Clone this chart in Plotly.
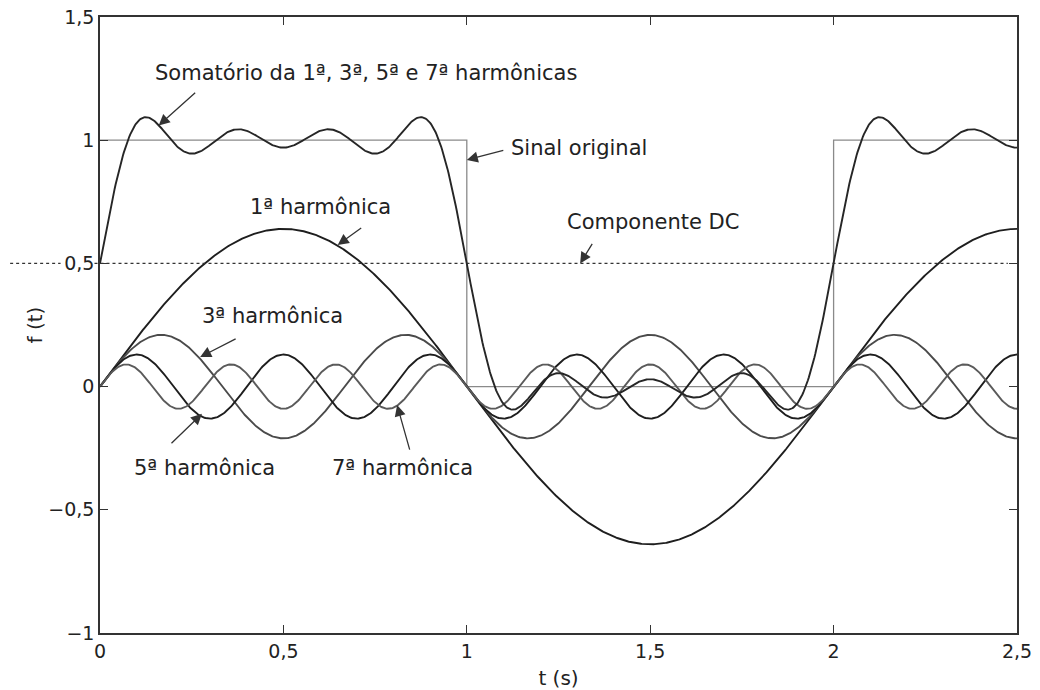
import numpy as np
import plotly.graph_objects as go

# Square wave: level 1 during the first half of each 2 s period
PERIOD = 2.0
SQUARE_T = [0.0, 1.0, 1.0, 2.0, 2.0, 2.5]
SQUARE_V = [1.0, 1.0, 0.0, 0.0, 1.0, 1.0]

# DC component and odd harmonics (order, peak amplitude)
DC_LEVEL = 0.5
HARMONIC_ORDER = [1, 3, 5, 7]
HARMONIC_PEAK = [0.64, 0.21, 0.13, 0.09]
HARMONIC_COLOR = ["#1e1e1e", "#4a4a4a", "#1e1e1e", "#5a5a5a"]

X_TICKS = [0, 0.5, 1, 1.5, 2, 2.5]
X_TICK_TEXT = ["0", "0,5", "1", "1,5", "2", "2,5"]
Y_TICKS = [-1, -0.5, 0, 0.5, 1, 1.5]
Y_TICK_TEXT = ["\u22121", "\u22120,5", "0", "0,5", "1", "1,5"]

FONT = "DejaVu Sans"
INK = "#222222"

W, H = 1040, 690
ML, MR, MT, MB = 100, 23, 17, 57
PW, PH = W - ML - MR, H - MT - MB

t = np.linspace(0, 2.5, 1001)
harmonics = [a * np.sin(2 * np.pi * n * t / PERIOD)
             for n, a in zip(HARMONIC_ORDER, HARMONIC_PEAK)]
partial_sum = DC_LEVEL + np.sum(harmonics, axis=0)

fig = go.Figure()

# original signal
fig.add_trace(go.Scatter(x=SQUARE_T, y=SQUARE_V, mode="lines",
                         line=dict(color="#8a8a8a", width=1.3)))

for h, c in zip(harmonics, HARMONIC_COLOR):
    fig.add_trace(go.Scatter(x=t, y=h, mode="lines",
                             line=dict(color=c, width=1.9)))

fig.add_trace(go.Scatter(x=t, y=partial_sum, mode="lines",
                         line=dict(color="#262626", width=1.9)))

# DC component: dotted line that runs past the left axis
dc_line = dict(type="line", yref="y", y0=DC_LEVEL, y1=DC_LEVEL,
               line=dict(color="#333333", width=1.3, dash="dot"), layer="above")
fig.add_shape(**dc_line, xref="paper", x0=-0.098, x1=-0.043)
fig.add_shape(**dc_line, xref="paper", x0=-0.006, x1=0.990)

text_font = dict(family=FONT, size=21, color=INK)

labels = [
    ("Somat\u00f3rio da 1\u00aa, 3\u00aa, 5\u00aa e 7\u00aa harm\u00f4nicas", 366, 73),
    ("Sinal original", 579, 148),
    ("1\u00aa harm\u00f4nica", 320, 207),
    ("Componente DC", 653, 222),
    ("3\u00aa harm\u00f4nica", 272, 316),
    ("5\u00aa harm\u00f4nica", 204, 468),
    ("7\u00aa harm\u00f4nica", 402, 468),
]
for txt, px, py in labels:
    fig.add_annotation(text=txt, x=(px - ML) / PW, y=(H - MB - py) / PH,
                       xref="paper", yref="paper",
                       xanchor="center", yanchor="middle", showarrow=False,
                       font=text_font)

# arrows: tip in data coordinates, tail as a pixel offset
arrows = [
    (0.16, 1.06, 38, -34),
    (1.0, 0.92, 38, -10),
    (0.648, 0.575, 25, -18),
    (1.309, 0.5, 13, -21),
    (0.273, 0.12, 37, -19),
    (0.278, -0.11, -32, 31),
    (0.81, -0.075, 13, 46),
]
for x, y, ax, ay in arrows:
    fig.add_annotation(x=x, y=y, ax=ax, ay=ay, xref="x", yref="y", text="",
                       showarrow=True, arrowhead=2, arrowsize=1.7,
                       arrowwidth=1.3, arrowcolor="#333333", standoff=0)

axis_common = dict(showgrid=False, zeroline=False, showline=True, mirror="ticks",
                   linecolor="#333333", linewidth=1.5, ticks="inside", ticklen=8,
                   tickwidth=1.3, tickcolor="#333333", automargin=False,
                   tickfont=dict(family=FONT, size=19, color=INK))

fig.update_xaxes(range=[0, 2.5], tickvals=X_TICKS, ticktext=X_TICK_TEXT,
                 title=dict(text="t (s)", font=dict(family=FONT, size=20, color=INK),
                            standoff=12),
                 **axis_common)
fig.update_yaxes(range=[-1, 1.5], tickvals=Y_TICKS, ticktext=Y_TICK_TEXT,
                 title=dict(text="f (t)", font=dict(family=FONT, size=20, color=INK),
                            standoff=0),
                 **axis_common)

fig.update_layout(width=W, height=H, showlegend=False,
                  margin=dict(l=ML, r=MR, t=MT, b=MB),
                  paper_bgcolor="white", plot_bgcolor="white")

fig.write_html("out.html")
